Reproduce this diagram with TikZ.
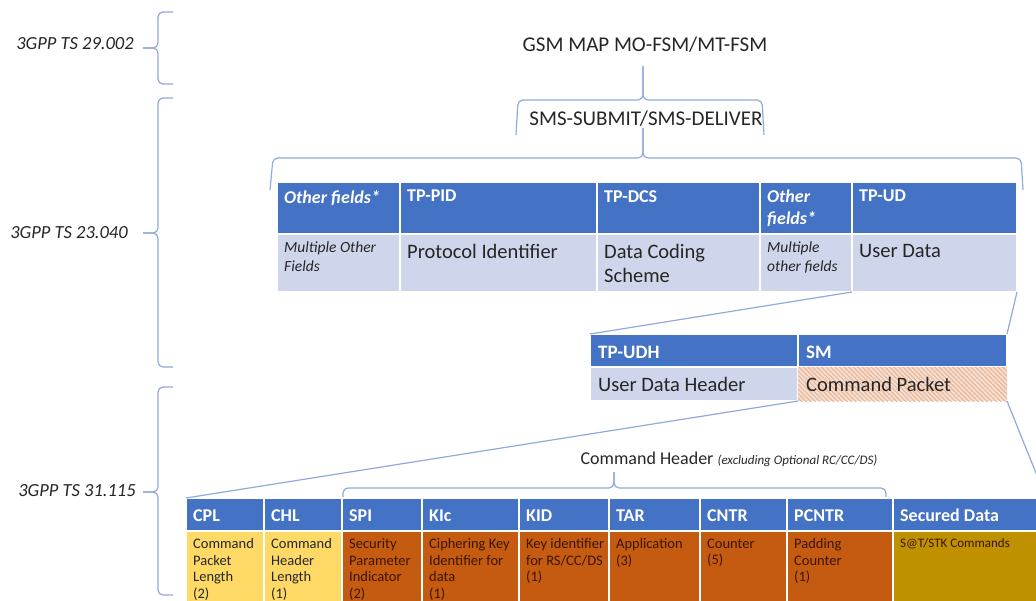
\documentclass[tikz,border=0pt]{standalone}
\usepackage{fontspec}
\setmainfont{Carlito}
\usetikzlibrary{patterns.meta}

\definecolor{hdblue}{HTML}{4472C4}
\definecolor{lav}{HTML}{CFD5EA}
\definecolor{brblue}{HTML}{8FAADC}
\definecolor{cpyel}{HTML}{FFD966}
\definecolor{cporg}{HTML}{C55A11}
\definecolor{cpgold}{HTML}{BF9000}
\definecolor{hatchbg}{HTML}{EEDFDA}
\definecolor{hatchln}{HTML}{F4B183}
\definecolor{darktxt}{HTML}{262626}
\definecolor{browntxt}{HTML}{3A1600}

\tikzset{
  cell/.style={anchor=north west, draw=white, line width=2pt, inner sep=0pt, outer sep=0pt},
  hd/.style={cell, fill=hdblue},
  bd/.style={cell, fill=lav},
  h1/.style={hd, minimum height=52pt},
  b1/.style={bd, minimum height=58pt},
  h2/.style={hd, minimum height=33pt},
  b2/.style={bd, minimum height=34pt},
  h3/.style={hd, minimum height=33pt},
  b3/.style={cell, minimum height=81pt},
  txt/.style={anchor=north west, inner xsep=7pt, inner ysep=6pt, align=left},
  htxt/.style={txt, inner ysep=8pt, text=white, font=\fontsize{18}{22}\selectfont\bfseries},
  btxt/.style={txt, inner ysep=10pt, text=darktxt, font=\fontsize{20.5}{24.5}\selectfont},
  stxt/.style={txt, inner ysep=8pt, text=darktxt, font=\fontsize{15.5}{19}\selectfont\itshape},
  mtxt/.style={anchor=west, inner xsep=8pt, align=left},
  mhtxt/.style={mtxt, yshift=-2pt, text=white, font=\fontsize{19}{22}\selectfont\bfseries},
  mbtxt/.style={mtxt, text=darktxt, font=\fontsize{20.5}{24}\selectfont},
  chtxt/.style={mtxt, inner xsep=7pt, yshift=-1pt, text=white, font=\fontsize{18}{22}\selectfont\bfseries},
  cbtxt/.style={txt, inner ysep=7.5pt, font=\fontsize{14.5}{16.5}\selectfont},
  spec/.style={text=darktxt, font=\fontsize{18.5}{22}\selectfont\itshape},
  title/.style={text=darktxt, font=\fontsize{21}{25}\selectfont},
  brc/.style={draw=brblue, line width=1.2pt, rounded corners=5pt},
  lnk/.style={draw=brblue, line width=1.2pt},
}

\begin{document}
\begin{tikzpicture}[x=1pt, y=-1pt]
\useasboundingbox (0,0) rectangle (1036,600);
\clip (0,0) rectangle (1036,600);

% specifications on the left
\node[spec] (ts1) at (75,44) {3GPP TS 29.002};
\node[spec] (ts2) at (69,233) {3GPP TS 23.040};
\node[spec] (ts3) at (77,491) {3GPP TS 31.115};
\draw[brc] (173,12) -- (158,12) -- (158,48) -- (143,48);
\draw[brc] (143,48) -- (158,48) -- (158,84) -- (173,84);
\draw[brc] (173,98) -- (158,98) -- (158,233) -- (143,233);
\draw[brc] (143,233) -- (158,233) -- (158,367) -- (173,367);
\draw[brc] (173,387) -- (158,387) -- (158,492) -- (143,492);
\draw[brc] (143,492) -- (158,492) -- (158,595) -- (173,595);

% titles
\node[title] (gsm) at (645,45) {GSM MAP MO-FSM/MT-FSM};
\draw[brc] (516,135) -- (518,100) -- (643,100) -- (643,66);
\draw[brc] (643,66) -- (643,100) -- (762,100) -- (764,135);
\node[title] (sms) at (646,119) {SMS-SUBMIT/SMS-DELIVER};
\draw[brc] (270,190) -- (273,158) -- (643,158) -- (643,128);
\draw[brc] (643,128) -- (643,158) -- (1021,158) -- (1023,190);

% SMS TPDU
\node[h1, minimum width=123pt] (ofah) at (277,182) {};
\node[h1, minimum width=197pt] (pidh) at (400,182) {};
\node[h1, minimum width=163pt] (dcsh) at (597,182) {};
\node[h1, minimum width=92pt] (ofbh) at (760,182) {};
\node[h1, minimum width=165pt] (udh) at (852,182) {};
\node[b1, minimum width=123pt] (ofab) at (277,234) {};
\node[b1, minimum width=197pt] (pidb) at (400,234) {};
\node[b1, minimum width=163pt] (dcsb) at (597,234) {};
\node[b1, minimum width=92pt] (ofbb) at (760,234) {};
\node[b1, minimum width=165pt] (udb) at (852,234) {};
\node[htxt] (ofaht) at (ofah.north west) {\itshape Other fields*};
\node[htxt] (pidht) at (pidh.north west) {TP-PID};
\node[htxt] (dcsht) at (dcsh.north west) {TP-DCS};
\node[htxt] (ofbht) at (ofbh.north west) {\itshape Other\\\itshape fields*};
\node[htxt] (udht) at (udh.north west) {TP-UD};
\node[stxt] (ofabt) at (ofab.north west) {Multiple Other\\Fields};
\node[btxt] (pidbt) at (pidb.north west) {Protocol Identifier};
\node[btxt] (dcsbt) at (dcsb.north west) {Data Coding\\Scheme};
\node[stxt] (ofbbt) at (ofbb.north west) {Multiple\\other fields};
\node[btxt] (udbt) at (udb.north west) {User Data};

% user data
\node[h2, minimum width=208pt] (udhh) at (590,334) {};
\node[h2, minimum width=209pt] (smh) at (798,334) {};
\node[b2, minimum width=208pt] (udhb) at (590,367) {};
\node[cell, minimum width=209pt, minimum height=34pt, draw=none,
  preaction={fill=hatchbg},
  pattern={Lines[angle=-45, distance=3.2pt, line width=1pt]}, pattern color=hatchln] (smb) at (798,367) {};
\node[mhtxt] (udhht) at (udhh.west) {TP-UDH};
\node[mhtxt] (smht) at (smh.west) {SM};
\node[mbtxt] (udhbt) at (udhb.west) {User Data Header};
\node[mbtxt] (smbt) at (smb.west) {Command Packet};
\draw[lnk] (udb.south west) -- (udhh.north west);
\draw[lnk] (udb.south east) -- (smh.north east);

% command packet
\node[title, font=\fontsize{18}{22}\selectfont] (cmdh) at (729,459) {Command Header {\fontsize{13}{15}\selectfont\itshape (excluding Optional RC/CC/DS)}};
\draw[brc] (343,498) -- (343,488) -- (614,488) -- (614,472);
\draw[brc] (614,472) -- (614,488) -- (886,488) -- (886,498);
\node[h3, minimum width=78pt] (cplh) at (186,498) {};
\node[h3, minimum width=78pt] (chlh) at (264,498) {};
\node[h3, minimum width=80pt] (spih) at (342,498) {};
\node[h3, minimum width=97pt] (kich) at (422,498) {};
\node[h3, minimum width=90pt] (kidh) at (519,498) {};
\node[h3, minimum width=91pt] (tarh) at (609,498) {};
\node[h3, minimum width=87pt] (cntrh) at (700,498) {};
\node[h3, minimum width=106pt] (pcntrh) at (787,498) {};
\node[h3, minimum width=153pt] (sech) at (893,498) {};
\node[b3, minimum width=78pt, fill=cpyel] (cplb) at (186,531) {};
\node[b3, minimum width=78pt, fill=cpyel] (chlb) at (264,531) {};
\node[b3, minimum width=80pt, fill=cporg] (spib) at (342,531) {};
\node[b3, minimum width=97pt, fill=cporg] (kicb) at (422,531) {};
\node[b3, minimum width=90pt, fill=cporg] (kidb) at (519,531) {};
\node[b3, minimum width=91pt, fill=cporg] (tarb) at (609,531) {};
\node[b3, minimum width=87pt, fill=cporg] (cntrb) at (700,531) {};
\node[b3, minimum width=106pt, fill=cporg] (pcntrb) at (787,531) {};
\node[b3, minimum width=153pt, fill=cpgold] (secb) at (893,531) {};
\node[chtxt] (cplht) at (cplh.west) {CPL};
\node[chtxt] (chlht) at (chlh.west) {CHL};
\node[chtxt] (spiht) at (spih.west) {SPI};
\node[chtxt] (kicht) at (kich.west) {KIc};
\node[chtxt] (kidht) at (kidh.west) {KID};
\node[chtxt] (tarht) at (tarh.west) {TAR};
\node[chtxt] (cntrht) at (cntrh.west) {CNTR};
\node[chtxt] (pcntrht) at (pcntrh.west) {PCNTR};
\node[chtxt] (secht) at (sech.west) {Secured Data};
\node[cbtxt, text=darktxt] (cplbt) at (cplb.north west) {Command\\Packet\\Length\\(2)};
\node[cbtxt, text=darktxt] (chlbt) at (chlb.north west) {Command\\Header\\Length\\(1)};
\node[cbtxt, text=browntxt] (spibt) at (spib.north west) {Security\\Parameter\\Indicator\\(2)};
\node[cbtxt, text=browntxt] (kicbt) at (kicb.north west) {Ciphering Key\\Identifier for\\data\\(1)};
\node[cbtxt, text=browntxt] (kidbt) at (kidb.north west) {Key identifier\\for RS/CC/DS\\(1)};
\node[cbtxt, text=browntxt] (tarbt) at (tarb.north west) {Application\\(3)};
\node[cbtxt, text=browntxt] (cntrbt) at (cntrb.north west) {Counter\\(5)};
\node[cbtxt, text=browntxt] (pcntrbt) at (pcntrb.north west) {Padding\\Counter\\(1)};
\node[cbtxt, text=browntxt, font=\fontsize{13}{16.5}\selectfont] (secbt) at (secb.north west) {S@T/STK Commands};
\draw[lnk] (smb.south west) -- (cplh.north west);
\draw[lnk] (smb.south east) -- (sech.north east);
\end{tikzpicture}
\end{document}
